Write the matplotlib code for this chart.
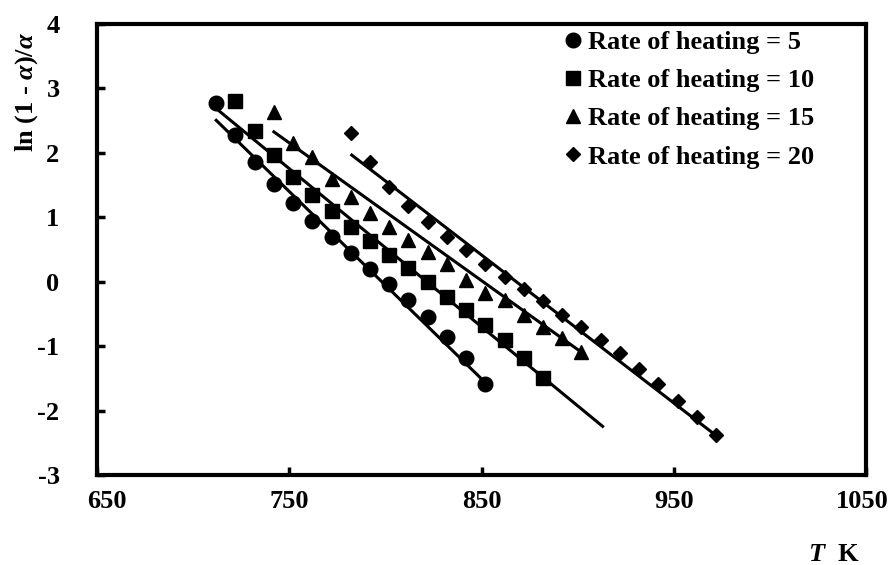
import matplotlib
matplotlib.use('Agg')
import matplotlib.pyplot as plt
import matplotlib.transforms as mtransforms
import numpy as np

plt.rcParams['font.family'] = ['Liberation Serif', 'DejaVu Serif']
plt.rcParams['font.weight'] = 'bold'
plt.rcParams['axes.unicode_minus'] = False
plt.rcParams['mathtext.fontset'] = 'custom'
plt.rcParams['mathtext.rm'] = 'Liberation Serif:bold'
plt.rcParams['mathtext.it'] = 'Liberation Serif:italic:bold'
plt.rcParams['mathtext.bf'] = 'Liberation Serif:bold'

# heating rates and measured points, T in K
rates = [5, 10, 15, 20]
markers = ['o', 's', '^', 'D']
marker_sizes = [10.5, 10, 10.5, 7]

T_rate5 = [712, 722, 732, 742, 752, 762, 772, 782, 792, 802, 812, 822, 832, 842, 852]
y_rate5 = [2.78, 2.28, 1.86, 1.52, 1.22, 0.94, 0.69, 0.45, 0.19, -0.04, -0.29, -0.55,
           -0.86, -1.19, -1.58]

T_rate10 = [722, 732, 742, 752, 762, 772, 782, 792, 802, 812, 822, 832, 842, 852, 862,
            872, 882]
y_rate10 = [2.81, 2.34, 1.97, 1.63, 1.34, 1.10, 0.85, 0.63, 0.42, 0.21, -0.01, -0.23,
            -0.44, -0.67, -0.91, -1.19, -1.49]

T_rate15 = [742, 752, 762, 772, 782, 792, 802, 812, 822, 832, 842, 852, 862, 872, 882,
            892, 902]
y_rate15 = [2.64, 2.15, 1.93, 1.59, 1.32, 1.06, 0.85, 0.64, 0.46, 0.28, 0.02, -0.17,
            -0.29, -0.52, -0.70, -0.88, -1.09]

T_rate20 = [782, 792, 802, 812, 822, 832, 842, 852, 862, 872, 882, 892, 902, 912, 922,
            932, 942, 952, 962, 972]
y_rate20 = [2.31, 1.86, 1.47, 1.17, 0.93, 0.70, 0.49, 0.28, 0.07, -0.12, -0.30, -0.51,
            -0.70, -0.90, -1.11, -1.36, -1.59, -1.85, -2.10, -2.38]

# linear fits: y = slope*T + intercept, drawn over fit_range
fit_slope = [-0.02908, -0.02454, -0.02138, -0.02297]
fit_intercept = [23.21, 20.16, 18.19, 19.94]
fit_range = [(712, 853), (713, 913), (742, 902.6), (782.5, 973.2)]

T_all = [T_rate5, T_rate10, T_rate15, T_rate20]
y_all = [y_rate5, y_rate10, y_rate15, y_rate20]

fig = plt.figure(figsize=(8.96, 5.65), dpi=100)
ax = fig.add_axes([0.1083, 0.1593, 0.8582, 0.7982])

for T, y, rate, m, ms, k, b, rng in zip(T_all, y_all, rates, markers, marker_sizes,
                                         fit_slope, fit_intercept, fit_range):
    tt = np.array(rng)
    ax.plot(tt, k * tt + b, color='black', linewidth=2.2, zorder=2)
    ax.plot(T, y, linestyle='none', marker=m, markersize=ms, color='black',
            label=f'Rate of heating = {rate}', zorder=3)

ax.set_xlim(650, 1050)
ax.set_ylim(-3, 4)
ax.set_xticks([650, 750, 850, 950, 1050])
ax.set_yticks(range(-3, 5))

for side in ['left', 'right', 'top', 'bottom']:
    ax.spines[side].set_linewidth(3)
ax.tick_params(axis='both', direction='in', length=6, width=2.5, labelsize=19)
ax.tick_params(axis='x', pad=11)
ax.tick_params(axis='y', pad=27)
for lbl in ax.get_xticklabels() + ax.get_yticklabels():
    lbl.set_fontweight('bold')

# nudge the end labels inwards a little
xlabels = ax.get_xticklabels()
xlabels[0].set_transform(xlabels[0].get_transform() +
                         mtransforms.ScaledTranslation(0.1, 0, fig.dpi_scale_trans))
xlabels[-1].set_transform(xlabels[-1].get_transform() +
                          mtransforms.ScaledTranslation(-0.04, 0, fig.dpi_scale_trans))

ax.set_ylabel(r'ln (1 - $\mathit{\alpha}$)/$\mathit{\alpha}$', fontsize=19,
              fontweight='bold')
ax.yaxis.set_label_coords(-0.074, 0.85)
ax.set_xlabel(r'$\mathit{T}$  K', fontsize=19, fontweight='bold')
ax.xaxis.set_label_coords(0.958, -0.15)

leg = ax.legend(loc='upper left', bbox_to_anchor=(0.585, 1.027), frameon=False,
                fontsize=19, handlelength=0.6, handletextpad=0.25,
                labelspacing=0.56, borderaxespad=0.3)
for t in leg.get_texts():
    t.set_fontweight('bold')

fig.savefig('out.png', dpi=100)
